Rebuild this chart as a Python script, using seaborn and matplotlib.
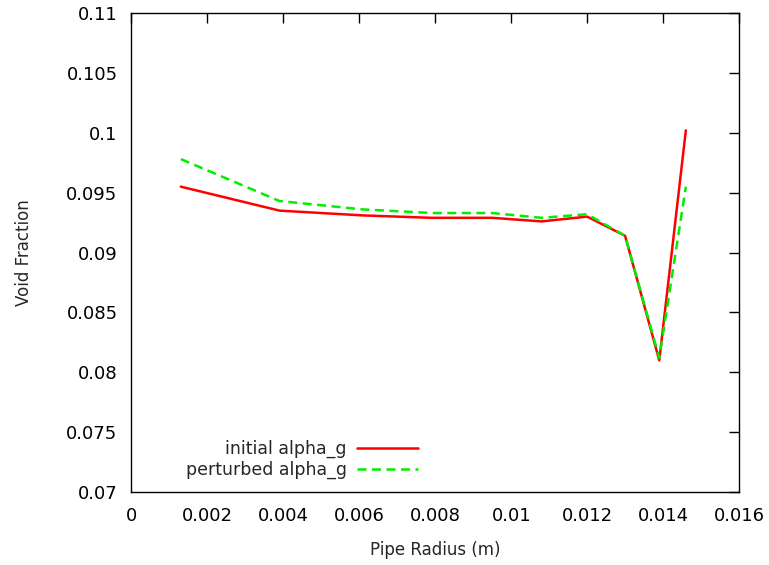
import numpy as np
import pandas as pd
import matplotlib
matplotlib.use("Agg")
import matplotlib.pyplot as plt
import seaborn as sns

# Radial positions of the cell centres (m)
radius = [0.0013, 0.0039, 0.0061, 0.0079, 0.0095, 0.0108, 0.0120, 0.0130, 0.0139, 0.0146]
# Void fraction profiles
initial_alpha = [0.0955, 0.0935, 0.0931, 0.0929, 0.0929, 0.0926, 0.0930, 0.0914, 0.0810, 0.1002]
perturbed_alpha = [0.0978, 0.0943, 0.0936, 0.0933, 0.0933, 0.0929, 0.0932, 0.0914, 0.0812, 0.0955]
series_names = ["initial alpha_g", "perturbed alpha_g"]

x_ticks = [0, 0.002, 0.004, 0.006, 0.008, 0.01, 0.012, 0.014, 0.016]
x_tick_labels = ["0", "0.002", "0.004", "0.006", "0.008", "0.01", "0.012", "0.014", "0.016"]
y_ticks = [0.07, 0.075, 0.08, 0.085, 0.09, 0.095, 0.1, 0.105, 0.11]
y_tick_labels = ["0.07", "0.075", "0.08", "0.085", "0.09", "0.095", "0.1", "0.105", "0.11"]

df = pd.DataFrame({
    "radius": radius * 2,
    "alpha": initial_alpha + perturbed_alpha,
    "series": [series_names[0]] * len(radius) + [series_names[1]] * len(radius),
})

sns.set_style("white")
plt.rcParams["font.family"] = ["DejaVu Sans"]

fig = plt.figure(figsize=(7.69, 5.65), dpi=100)
ax = fig.add_axes([0.171, 0.129, 0.790, 0.848])

sns.lineplot(
    data=df, x="radius", y="alpha", hue="series", style="series",
    palette={series_names[0]: "#ff0000", series_names[1]: "#00ee00"},
    dashes={series_names[0]: "", series_names[1]: (3.6, 2.2)},
    linewidth=1.8, ax=ax, legend=True, sort=False,
)

ax.set_xlim(0, 0.016)
ax.set_ylim(0.07, 0.11)
ax.set_xticks(x_ticks)
ax.set_xticklabels(x_tick_labels)
ax.set_yticks(y_ticks)
ax.set_yticklabels(y_tick_labels)
ax.tick_params(direction="in", length=7, width=1, top=True, right=True,
               labelsize=13, colors="black", pad=11)
ax.tick_params(axis="y", pad=10)
for s in ax.spines.values():
    s.set_visible(True)
    s.set_color("black")
    s.set_linewidth(1)

ax.set_xlabel("Pipe Radius (m)", fontsize=12, labelpad=11)
ax.set_ylabel("Void Fraction", fontsize=12, labelpad=24)

handles, labels = ax.get_legend_handles_labels()
leg = ax.legend(handles, labels, loc="center right", bbox_to_anchor=(0.494, 0.068),
                frameon=False, markerfirst=False, fontsize=12.5,
                handlelength=3.5, handletextpad=0.6, labelspacing=0.18,
                borderpad=0.3)

fig.savefig("out.png", dpi=100, facecolor="white")
